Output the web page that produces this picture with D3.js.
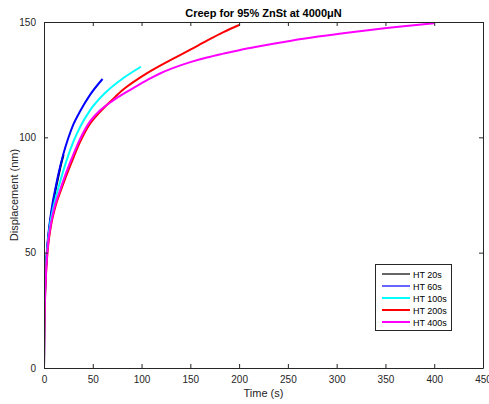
<!DOCTYPE html>
<html><head><meta charset="utf-8">
<script src="https://cdn.jsdelivr.net/npm/d3@7"></script>
<style>
body{margin:0;background:#fff;}
svg{display:block;font-family:"Liberation Sans",Arial,Helvetica,sans-serif;}
</style></head>
<body><svg id="c" width="489" height="404"></svg>
<script>
const seriesNames = ["HT 20s","HT 60s","HT 100s","HT 200s","HT 400s"];
const seriesColors = ["#000000","#0000ff","#00ffff","#ff0000","#ff00ff"];
const t20 = [0,0.2,0.5,1,2,3,4.5,6.5,9,12,15,17.5,20];
const v20 = [0,14,23,32,43,50,57,64,70.5,77.5,83.5,88.3,92.5];
const t60 = [0,0.2,0.5,1,2,3,4.5,6.5,9,12,15,20,25,30,37,47,60];
const v60 = [0,15,24,33,44,51,58,65,72,78.5,84.5,93,99.8,105.5,111.3,118.3,125.3];
const t100 = [0,0.2,0.5,1,2,3,4.5,6.5,9,12,16,23,30,37,47,64,81,99.4];
const v100 = [0,13,22,31,42.5,49.5,56.5,63,68.5,73.8,80,89.8,98,104.5,111.6,119.8,125.6,130.6];
const t200 = [0,0.2,0.5,1,2,3,4.5,6.5,9,12,16,23,30,37,47,57,70,80,90,100,110,120,132,150,167,184,200];
const v200 = [0,11,20,29,40,47,54,60,65.5,70.5,75.5,83.5,91,98,105.8,110.8,116.3,120.3,123.5,126.3,128.9,131.3,134.0,138.0,141.9,145.6,148.7];
const t400 = [0,0.2,0.5,1,2,3,4.5,6.5,9,12,16,23,30,37,47,57,71,88,98,109,120,132,150,167,184,201,218,235,252,281,315,349,366,400];
const v400 = [0,12,21,30,41,48,55,61,66.5,71.5,76.5,85,92.5,99.3,106.8,111.5,116,120.5,123.0,125.6,127.9,130.0,132.6,134.6,136.3,137.9,139.3,140.6,141.8,143.7,145.6,147.3,148.1,149.5];
const xTicks = [0,50,100,150,200,250,300,350,400,450];
const yTicks = [0,50,100,150];
const titleText = "Creep for 95% ZnSt at 4000μN";
const xLabel = "Time (s)";
const yLabel = "Displacement (nm)";

const times = [t20,t60,t100,t200,t400];
const vals = [v20,v60,v100,v200,v400];

const svg = d3.select("#c");
const L=44, R=483, T=22, B=368;
const x = d3.scaleLinear().domain([0,450]).range([L,R]);
const y = d3.scaleLinear().domain([0,150]).range([B,T]);
const axCol = "#262626";

svg.append("rect").attr("width",489).attr("height",404).attr("fill","#fff");

// lines
const line = d3.line().x(d=>x(d[0])).y(d=>y(d[1])).curve(d3.curveMonotoneX);
svg.append("clipPath").attr("id","cp").append("rect").attr("x",L).attr("y",T-2).attr("width",R-L).attr("height",B-T+2);
const g = svg.append("g").attr("clip-path","url(#cp)");
times.forEach((ts,i)=>{
  const pts = ts.map((t,j)=>[t, vals[i][j]]);
  g.append("path").attr("d",line(pts)).attr("fill","none")
   .attr("stroke",seriesColors[i]).attr("stroke-width",2).attr("stroke-linejoin","round");
});

// axes
const fmt = d3.format("d");
const xb = svg.append("g").attr("transform",`translate(0,${B})`)
  .call(d3.axisBottom(x).tickValues(xTicks).tickFormat(fmt).tickSizeInner(-4).tickSizeOuter(0).tickPadding(8));
const xt = svg.append("g").attr("transform",`translate(0,${T})`)
  .call(d3.axisTop(x).tickValues(xTicks).tickFormat("").tickSizeInner(-4).tickSizeOuter(0));
const yl = svg.append("g").attr("transform",`translate(${L},0)`)
  .call(d3.axisLeft(y).tickValues(yTicks).tickFormat(fmt).tickSizeInner(-4).tickSizeOuter(0).tickPadding(8));
const yr = svg.append("g").attr("transform",`translate(${R},0)`)
  .call(d3.axisRight(y).tickValues(yTicks).tickFormat("").tickSizeInner(-4).tickSizeOuter(0));
[xb,xt,yl,yr].forEach(a=>{
  a.select(".domain").attr("stroke",axCol).attr("stroke-width",1);
  a.selectAll(".tick line").attr("stroke",axCol);
  a.selectAll("text").attr("fill",axCol).style("font-size","10px").style("font-family","'Liberation Sans',Arial,sans-serif");
});

// title and labels
svg.append("text").attr("x",(L+R)/2).attr("y",17).attr("text-anchor","middle")
  .style("font-size","11px").style("font-weight","bold").attr("fill","#000").text(titleText);
svg.append("text").attr("x",(L+R)/2).attr("y",397).attr("text-anchor","middle")
  .style("font-size","11px").attr("fill",axCol).text(xLabel);
svg.append("text").attr("transform",`translate(18,${(T+B)/2}) rotate(-90)`).attr("text-anchor","middle")
  .style("font-size","11px").attr("fill",axCol).text(yLabel);

// legend
const lg = svg.append("g");
lg.append("rect").attr("x",375.5).attr("y",264.5).attr("width",76).attr("height",66)
  .attr("fill","#fff").attr("stroke",axCol).attr("stroke-width",1);
seriesNames.forEach((n,i)=>{
  const yy = 274 + i*12;
  lg.append("line").attr("x1",382).attr("x2",410).attr("y1",yy).attr("y2",yy)
    .attr("stroke",seriesColors[i]).attr("stroke-width",i>=2?2:1.2);
  lg.append("text").attr("x",413).attr("y",yy+3.5).style("font-size","9px").attr("fill","#000").text(n);
});
</script></body></html>
